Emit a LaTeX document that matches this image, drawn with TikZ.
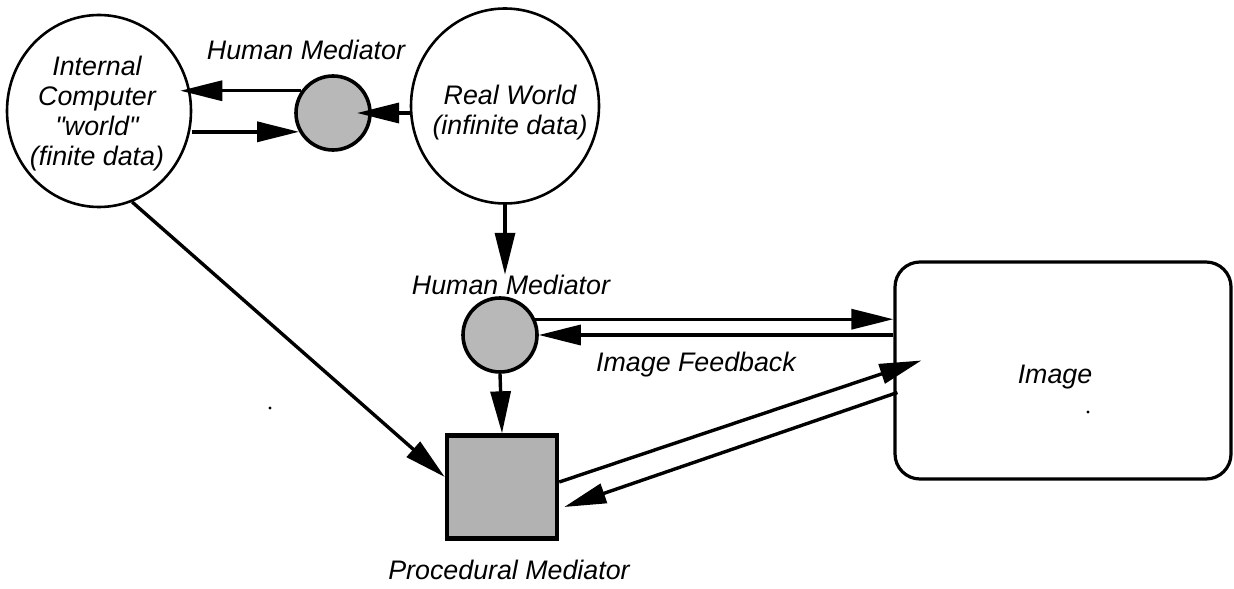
\documentclass[tikz,border=0pt]{standalone}
\usepackage{fontspec}
\setmainfont{Liberation Sans}[Ligatures=TeXOff]
\usetikzlibrary{arrows.meta,positioning,calc,shapes.geometric}

\begin{document}
\begin{tikzpicture}[x=0.5pt, y=-0.5pt,
    every node/.style={font=\fontsize{13.4pt}{15pt}\selectfont\itshape},
    world/.style={ellipse, draw, line width=1.3pt, inner sep=0pt},
    mediator/.style={circle, draw, line width=1.8pt, fill=black!28, minimum size=37pt, inner sep=0pt},
    lbl/.style={inner sep=0pt, align=center},
    arr/.style={-{Triangle[length=21pt, width=10pt]}, line width=1.7pt}]

    \useasboundingbox (0,0) rectangle (1234,588);

    % worlds
    \node[world, minimum width=92pt, minimum height=96pt] (icw) at (99,111) {};
    \node[lbl] (icwtext) at (97,114) {Internal\\Computer\\"world"\\(finite data)};
    \node[world, minimum width=94pt, minimum height=97.5pt] (rw) at (505,106) {};
    \node[lbl] (rwtext) at (510,113) {Real World\\(infinite data)};

    % mediators
    \node[mediator] (hm1) at (333,113) {};
    \node[lbl] (hm1lbl) at (306,50) {Human Mediator};
    \node[mediator] (hm2) at (500,335) {};
    \node[lbl] (hm2lbl) at (511,285) {Human Mediator};
    \node[rectangle, draw, line width=2.2pt, fill=black!30, minimum width=55pt, minimum height=51.5pt, inner sep=0pt] (pm) at (502,487) {};
    \node[lbl] (pmlbl) at (509,570) {Procedural Mediator};

    % image
    \node[rectangle, draw, rounded corners=12.5pt, line width=1.6pt, minimum width=168pt, minimum height=108.5pt] (img) at (1063,370.5) {};
    \node[lbl] (imglbl) at (1055,377) {Image};
    \node[lbl] (fb) at (696,365) {Image Feedback};

    % Arrows
    \draw[arr] (hm1.145) -- ($(hm1.145 -| icw.east)+(-12,0)$);
    \draw[arr] (hm1.209 -| icw.east) -- (hm1.209);
    \draw[arr] (rw.west |- hm1.center) -- ($(hm1.center)+(24,0)$);
    \draw[arr] (rw.south) -- (rw.south |- hm2lbl.north);
    \draw[arr] (hm2.24) -- (hm2.24 -| img.west);
    \draw[arr] (hm2.east -| img.west) -- (hm2.east);
    \draw[arr] (hm2.south) -- (pm.north);
    \draw[arr] (icw.-70) -- ($(pm.west)+(0,-10)$);
    \draw[arr] ($(pm.east)+(0,-5)$) -- ($(img.west)+(28,-10)$);
    \draw[arr] ($(img.west)+(4,22)$) -- ($(pm.east)+(5,20)$);

    % specks
    \fill (270,408) circle (0.8pt);
    \fill (1088,412) circle (0.8pt);

\end{tikzpicture}
\end{document}
